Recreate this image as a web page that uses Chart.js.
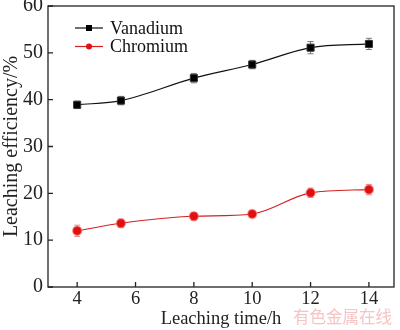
<!DOCTYPE html>
<html>
<head>
<meta charset="utf-8">
<script src="https://cdn.jsdelivr.net/npm/chart.js@4"></script>
<style>
  html, body { margin: 0; padding: 0; background: #fff; }
  #wrap { position: relative; width: 400px; height: 330px; }
  #mark { position: absolute; left: 293px; top: 304px; font: 16.5px "Noto Sans CJK SC"; color: #f6c4c4; }
</style>
</head>
<body>
<div id="wrap">
  <canvas id="myChart" width="400" height="330"></canvas>
  <div id="mark">有色金属在线</div>
</div>
<script>
const hours = [4, 5.5, 8, 10, 12, 14];
const vanadium = [38.9, 39.8, 44.6, 47.5, 51.1, 51.9];
const vanadiumErr = [0.8, 0.9, 1.0, 0.9, 1.3, 1.2];
const chromium = [12.0, 13.6, 15.1, 15.6, 20.1, 20.8];
const chromiumErr = [1.2, 0.9, 0.8, 0.7, 1.0, 1.1];
const xTicks = [4, 6, 8, 10, 12, 14];
const yTicks = [0, 10, 20, 30, 40, 50, 60];

const serif = 'Liberation Serif';

const points = (ys) => hours.map((h, i) => ({x: h, y: ys[i]}));

// error bars behind the markers
const errorBars = {
  id: 'errorBars',
  beforeDatasetsDraw(chart) {
    const {ctx, scales: {x, y}} = chart;
    ctx.save();
    chart.data.datasets.forEach(ds => {
      ctx.strokeStyle = ds.errColor;
      ctx.lineWidth = 1;
      ds.data.forEach((p, i) => {
        const px = x.getPixelForValue(p.x);
        const top = y.getPixelForValue(p.y + ds.err[i]);
        const bot = y.getPixelForValue(p.y - ds.err[i]);
        ctx.beginPath();
        ctx.moveTo(px, top); ctx.lineTo(px, bot);
        ctx.moveTo(px - 3, top); ctx.lineTo(px + 3, top);
        ctx.moveTo(px - 3, bot); ctx.lineTo(px + 3, bot);
        ctx.stroke();
      });
    });
    ctx.restore();
  }
};

// box frame with inward ticks
const frame = {
  id: 'frame',
  afterDatasetsDraw(chart) {
    const {ctx, chartArea: a, scales: {x, y}} = chart;
    ctx.save();
    ctx.strokeStyle = '#222';
    ctx.lineWidth = 1.3;
    ctx.strokeRect(a.left, a.top, a.right - a.left, a.bottom - a.top);
    ctx.beginPath();
    xTicks.forEach(v => {
      const px = x.getPixelForValue(v);
      ctx.moveTo(px, a.bottom); ctx.lineTo(px, a.bottom - 5);
    });
    yTicks.forEach(v => {
      const py = y.getPixelForValue(v);
      ctx.moveTo(a.left, py); ctx.lineTo(a.left + 5, py);
    });
    ctx.stroke();
    ctx.restore();
  }
};

// legend inside the plot: short line with the marker on it
const insideLegend = {
  id: 'insideLegend',
  afterDraw(chart) {
    const {ctx, chartArea: a} = chart;
    ctx.save();
    ctx.font = '18px ' + serif;
    ctx.textBaseline = 'middle';
    chart.data.datasets.forEach((ds, i) => {
      const yy = a.top + 22 + i * 18.5;
      const x0 = a.left + 27, x1 = a.left + 55, xm = (x0 + x1) / 2;
      ctx.strokeStyle = ds.borderColor;
      ctx.lineWidth = 1.2;
      ctx.beginPath(); ctx.moveTo(x0, yy); ctx.lineTo(x1, yy); ctx.stroke();
      ctx.fillStyle = ds.pointBackgroundColor;
      if (ds.pointStyle === 'rect') {
        ctx.fillRect(xm - 3, yy - 3, 6, 6);
      } else {
        ctx.beginPath(); ctx.arc(xm, yy, 3, 0, Math.PI * 2); ctx.fill();
      }
      ctx.fillStyle = '#111';
      ctx.fillText(ds.label, a.left + 62, yy + 1);
    });
    ctx.restore();
  }
};

new Chart(document.getElementById('myChart'), {
  type: 'line',
  data: {
    datasets: [{
      label: 'Vanadium',
      data: points(vanadium),
      err: vanadiumErr,
      errColor: '#777',
      borderColor: '#111',
      borderWidth: 1.2,
      pointStyle: 'rect',
      pointRadius: 5,
      pointBackgroundColor: '#000',
      pointBorderColor: '#333',
      pointBorderWidth: 1,
      cubicInterpolationMode: 'monotone'
    }, {
      label: 'Chromium',
      data: points(chromium),
      err: chromiumErr,
      errColor: '#e58a8a',
      borderColor: '#d42020',
      borderWidth: 1.1,
      pointStyle: 'circle',
      pointRadius: 4.5,
      pointBackgroundColor: '#e01010',
      pointBorderColor: 'rgba(240,120,120,0.55)',
      pointBorderWidth: 1.5,
      cubicInterpolationMode: 'monotone'
    }]
  },
  options: {
    responsive: false,
    animation: false,
    layout: { padding: { top: 4, right: 4 } },
    plugins: { legend: { display: false }, tooltip: { enabled: false } },
    scales: {
      x: {
        type: 'linear',
        min: 3,
        max: 14.86,
        afterBuildTicks: s => { s.ticks = xTicks.map(v => ({value: v})); },
        afterFit: s => { s.height = 43; s.paddingLeft = 0; s.paddingRight = 0; },
        grid: { display: false, drawTicks: false },
        border: { display: false },
        ticks: { font: { family: serif, size: 18.5 }, color: '#222', padding: 1 },
        title: { display: true, text: 'Leaching time/h', font: { family: serif, size: 18.5 }, color: '#222', padding: 0 }
      },
      y: {
        min: 0,
        max: 60,
        afterBuildTicks: s => { s.ticks = yTicks.map(v => ({value: v})); },
        afterFit: s => { s.width = 48; s.paddingTop = 0; s.paddingBottom = 0; },
        grid: { display: false, drawTicks: false },
        border: { display: false },
        ticks: { font: { family: serif, size: 20 }, color: '#222', padding: 5 },
        title: { display: true, text: 'Leaching efficiency/%', font: { family: serif, size: 20 }, color: '#222', padding: { top: 0, bottom: 0 } }
      }
    }
  },
  plugins: [errorBars, frame, insideLegend]
});
</script>
</body>
</html>
